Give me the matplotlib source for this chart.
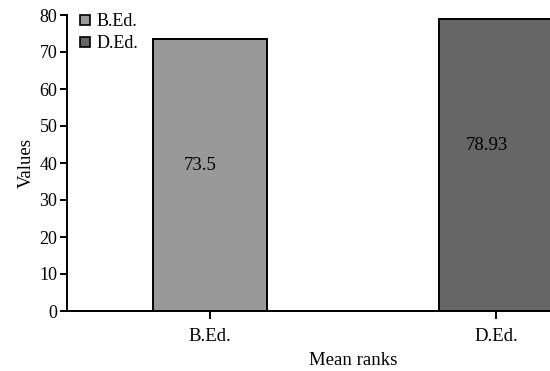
import matplotlib.pyplot as plt
from matplotlib.lines import Line2D

# ── data ──────────────────────────────────────────────────────────────────────
categories = ["B.Ed.", "D.Ed."]
values     = [73.5, 78.93]
labels     = ["73.5", "78.93"]
colours    = ["#999999", "#666666"]
y_ticks    = [0, 10, 20, 30, 40, 50, 60, 70, 80]

plt.rcParams["font.family"] = ["Liberation Serif", "DejaVu Serif"]

fig = plt.figure(figsize=(5.5, 3.71), dpi=100)
# axes run past the right edge, as in the (cropped) reference
ax = fig.add_axes([67 / 550, 60 / 371, 572 / 550, 296 / 371])

x = list(range(len(categories)))
ax.bar(x, values, width=0.4, color=colours, edgecolor="black", linewidth=1.4)

# value labels sit a fixed distance below each bar top, slightly left of centre
for xi, v, lab in zip(x, values, labels):
    ax.text(xi - 0.033, v - 34.3, lab, ha="center", va="center", fontsize=13.5)

ax.set_xlim(-0.5, 1.5)
ax.set_ylim(0, 80)
ax.set_yticks(y_ticks)
ax.set_xticks(x)
ax.set_xticklabels(categories, fontsize=13.5)
ax.tick_params(axis="y", labelsize=13, length=5, width=1.4, direction="out", pad=2)
ax.tick_params(axis="x", length=6, width=1.4, direction="out", pad=6)
ax.spines[["top", "right"]].set_visible(False)
for sp in ("left", "bottom"):
    ax.spines[sp].set_linewidth(1.4)

ax.set_ylabel("Values", fontsize=13.5, labelpad=3)
ax.set_xlabel("Mean ranks", fontsize=13.5, labelpad=5)

handles = [Line2D([0], [0], marker="s", linestyle="none", markersize=7,
                  markerfacecolor=c, markeredgecolor="black", markeredgewidth=1.2)
           for c in colours]
ax.legend(handles, categories, loc="upper left", frameon=False, fontsize=13,
          handlelength=0.6, handletextpad=0.3, labelspacing=0.25,
          borderaxespad=0, bbox_to_anchor=(0.01, 1.03))

fig.savefig("out.png", dpi=100)
